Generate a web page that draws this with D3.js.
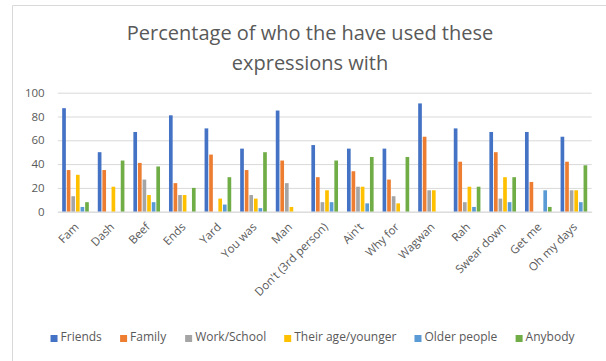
<!DOCTYPE html>
<html>
<head>
<meta charset="utf-8">
<script src="https://cdn.jsdelivr.net/npm/d3@7"></script>
<style>
  body { margin: 0; background: #fff; }
  svg text { font-family: 'Open Sans', sans-serif; fill: #595959; }
</style>
</head>
<body>
<svg id="chart"></svg>
<script>
// expressions on the x axis
const expressions = ['Fam', 'Dash', 'Beef', 'Ends', 'Yard', 'You was', 'Man', "Don't (3rd person)",
  "Ain't", 'Why for', 'Wagwan', 'Rah', 'Swear down', 'Get me', 'Oh my days'];

const groups = ['Friends', 'Family', 'Work/School', 'Their age/younger', 'Older people', 'Anybody'];

// percentages, one array per group, in the order of expressions
const friends   = [87, 50, 67, 81, 70, 53, 85, 56, 53, 53, 91, 70, 67, 67, 63];
const family    = [35, 35, 41, 24, 48, 35, 43, 29, 34, 27, 63, 42, 50, 25, 42];
const work      = [13, 0, 27, 14, 0, 14, 24, 8, 21, 13, 18, 8, 11, 0, 18];
const theirAge  = [31, 21, 14, 14, 11, 11, 4, 18, 21, 7, 18, 21, 29, 0, 18];
const older     = [4, 0, 8, 0, 6, 3, 0, 8, 7, 0, 0, 4, 8, 18, 8];
const anybody   = [8, 43, 38, 20, 29, 50, 0, 43, 46, 46, 0, 21, 29, 4, 39];

const yTicks = [0, 20, 40, 60, 80, 100];
const colors = ['#4472C4', '#ED7D31', '#A5A5A5', '#FFC000', '#5B9BD5', '#70AD47'];

const seriesValues = [friends, family, work, theirAge, older, anybody];

const width = 606, height = 361;
const margin = {top: 92.7, right: 14.3, bottom: 149.3, left: 57.7};

const svg = d3.select('#chart')
  .attr('width', width)
  .attr('height', height);

// chart frame (cropped on the right and bottom)
svg.append('path')
  .attr('d', `M12.5,${height} V5.5 H${width}`)
  .attr('fill', 'none')
  .attr('stroke', '#d9d9d9');

// title
const title = svg.append('text')
  .attr('x', 310)
  .attr('y', 40)
  .attr('text-anchor', 'middle')
  .style('font-size', '20px');
title.append('tspan').attr('x', 310).text('Percentage of who the have used these');
title.append('tspan').attr('x', 310).attr('dy', 30).text('expressions with');

const innerW = width - margin.left - margin.right;
const innerH = height - margin.top - margin.bottom;

const chart = svg.append('g')
  .attr('transform', `translate(${margin.left},${margin.top})`);

const x0 = d3.scaleBand()
  .domain(expressions)
  .range([0, innerW])
  .paddingInner(0.2)
  .paddingOuter(0.1);

const x1 = d3.scaleBand()
  .domain(groups)
  .range([0, x0.bandwidth()])
  .padding(0.2);

const y = d3.scaleLinear()
  .domain([0, 100])
  .range([innerH, 0]);

// gridlines
const yAxis = d3.axisLeft(y)
  .tickValues(yTicks)
  .tickSize(-innerW)
  .tickPadding(13);

const yAxisG = chart.append('g')
  .attr('class', 'axis y-axis')
  .call(yAxis);
yAxisG.select('.domain').remove();
yAxisG.selectAll('line').attr('stroke', '#d9d9d9');
yAxisG.selectAll('text').style('font-size', '11.5px').attr('fill', '#595959');

// bars
const rows = expressions.map((e, i) => ({
  name: e,
  vals: groups.map((g, j) => ({group: g, value: seriesValues[j][i], color: colors[j]}))
}));

const cat = chart.selectAll('.cat')
  .data(rows)
  .join('g')
  .attr('class', 'cat')
  .attr('transform', d => `translate(${x0(d.name)},0)`);

cat.selectAll('rect')
  .data(d => d.vals.filter(v => v.value > 0))
  .join('rect')
  .attr('x', d => x1(d.group))
  .attr('y', d => y(d.value))
  .attr('width', x1.bandwidth())
  .attr('height', d => innerH - y(d.value))
  .attr('fill', d => d.color);

// x axis labels
const xAxis = d3.axisBottom(x0).tickSize(0);
const xAxisG = chart.append('g')
  .attr('class', 'axis x-axis')
  .attr('transform', `translate(0,${innerH})`)
  .call(xAxis);
xAxisG.select('.domain').attr('stroke', '#d9d9d9');
xAxisG.selectAll('text')
  .style('font-size', '11.5px')
  .attr('fill', '#595959')
  .attr('text-anchor', 'end')
  .attr('dy', '0.35em')
  .attr('transform', 'translate(-1,11) rotate(-45)');

// legend
const legend = svg.append('g').attr('class', 'legend');
const items = legend.selectAll('g')
  .data(groups)
  .join('g');
items.append('rect')
  .attr('width', 7)
  .attr('height', 7)
  .attr('y', -6)
  .attr('fill', (d, i) => colors[i]);
items.append('text')
  .attr('x', 10)
  .style('font-size', '12px')
  .text(d => d);

let pos = 0;
const gap = 18;
items.each(function () {
  const w = this.getBBox().width;
  d3.select(this).attr('data-x', pos);
  pos += w + gap;
});
const totalW = pos - gap;
const startX = 313 - totalW / 2;
items.attr('transform', function () {
  return `translate(${startX + (+this.getAttribute('data-x'))},341)`;
});
</script>
</body>
</html>
